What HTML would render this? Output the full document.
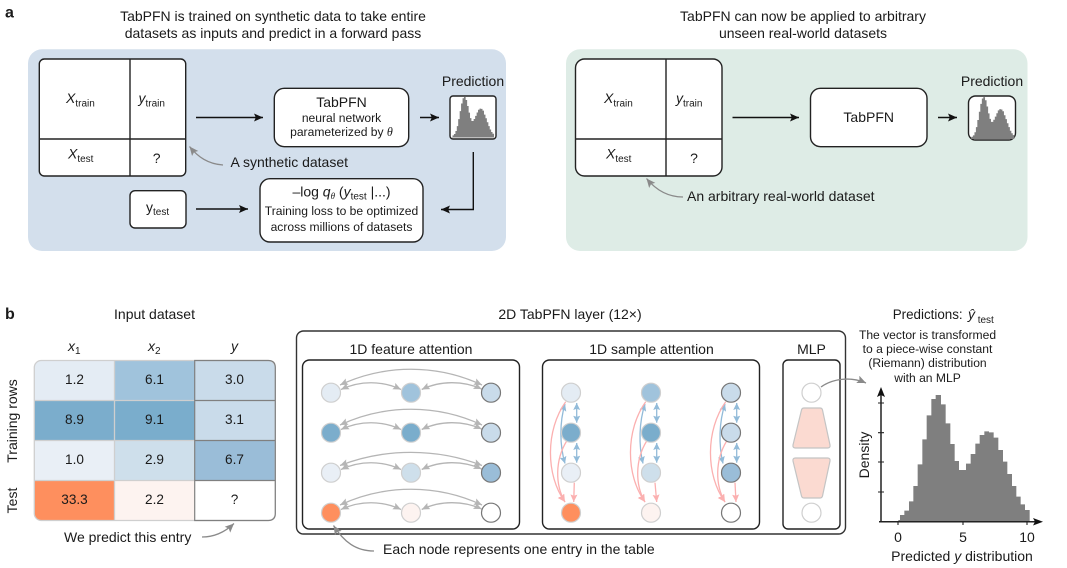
<!DOCTYPE html>
<html><head><meta charset="utf-8"><style>
html,body{margin:0;padding:0;background:#fff}
svg{display:block}
text{font-family:"Liberation Sans",sans-serif;fill:#1a1a1a;font-size:14px}
.m{text-anchor:middle}
.i{font-style:italic}
.s{font-size:10px}
.sm{font-size:12.1px}
.th{font-family:"Liberation Serif",serif;font-style:italic}
.box{fill:#fff;stroke:#222;stroke-width:1.4}
.a{fill:none;stroke:#111;stroke-width:1.4;marker-end:url(#k)}
.g{fill:none;stroke:#8a8a8a;stroke-width:1.3;marker-end:url(#g)}
.f{fill:none;stroke:#b5b5b5;stroke-width:1.3;marker-end:url(#f);marker-start:url(#f)}
.b{fill:none;stroke:#92bbd9;stroke-width:1.3;marker-end:url(#b);marker-start:url(#b)}
.p{fill:none;stroke:#fbb0b0;stroke-width:1.3;marker-end:url(#p)}
.grid{stroke:#cfcfcf;stroke-width:1.3}
.gy{stroke:#808080;stroke-width:1.2}
.n{font-size:13.6px}
</style></head><body>
<svg width="1067" height="568" viewBox="0 0 1067 568" xmlns="http://www.w3.org/2000/svg">
<defs>
<marker id="k" markerWidth="10" markerHeight="9" refX="9" refY="4" orient="auto" markerUnits="userSpaceOnUse"><path d="M0,0 L9,4 L0,8 L1.8,4z" fill="#111"/></marker>
<marker id="g" markerWidth="10" markerHeight="9" refX="9" refY="4" orient="auto" markerUnits="userSpaceOnUse"><path d="M0,0 L9,4 L0,8 L1.8,4z" fill="#8a8a8a"/></marker>
<marker id="f" markerWidth="9" markerHeight="8" refX="8" refY="3.5" orient="auto-start-reverse" markerUnits="userSpaceOnUse"><path d="M0,0 L8,3.5 L0,7 L1.5,3.5z" fill="#b5b5b5"/></marker>
<marker id="b" markerWidth="9" markerHeight="8" refX="7" refY="3.5" orient="auto-start-reverse" markerUnits="userSpaceOnUse"><path d="M0,0 L7,3.5 L0,7 L1.2,3.5z" fill="#92bbd9"/></marker>
<marker id="p" markerWidth="9" markerHeight="8" refX="7.5" refY="3.5" orient="auto" markerUnits="userSpaceOnUse"><path d="M0,0 L7.5,3.5 L0,7 L1.3,3.5z" fill="#fbb0b0"/></marker>
<clipPath id="tc"><rect x="34.3" y="360.5" width="241" height="160" rx="7"/></clipPath>
</defs>

<text x="5" y="17.5" style="font-weight:bold;font-size:16px">a</text>
<text x="5" y="319" style="font-weight:bold;font-size:16px">b</text>

<!-- panel a left -->
<text class="m" x="273" y="21">TabPFN is trained on synthetic data to take entire</text>
<text class="m" x="273" y="38">datasets as inputs and predict in a forward pass</text>
<rect x="28" y="49.3" width="478" height="201.7" rx="14" fill="#d3dfec"/>
<rect class="box" x="39.3" y="59" width="146.4" height="117" rx="5"/>
<path d="M130,59V176M39.3,139H185.7" stroke="#222" stroke-width="1.4" fill="none"/>
<text x="66" y="103" class="i">X<tspan class="s" font-style="normal" dy="3.5">train</tspan></text>
<text x="138.5" y="103" class="i">y<tspan class="s" font-style="normal" dy="3.5">train</tspan></text>
<text x="68" y="158.5" class="i">X<tspan class="s" font-style="normal" dy="3.5">test</tspan></text>
<text class="m" x="156.7" y="163">?</text>
<rect class="box" x="130" y="190.7" width="56" height="37.3" rx="5"/>
<text x="146" y="212">y<tspan class="s" dy="3">test</tspan></text>
<path class="a" d="M196,117.5H263"/>
<path class="a" d="M420,117.5H439"/>
<path class="a" d="M196,209H248"/>
<path class="a" d="M473.3,152V209.5H441"/>
<path class="g" d="M223,165 C208,164 198,157 189.5,146.5"/>
<text x="230.5" y="167">A synthetic dataset</text>
<rect class="box" x="274.3" y="88.3" width="134.4" height="58.4" rx="10"/>
<text class="m" x="341.5" y="107">TabPFN</text>
<text class="m sm" x="341.5" y="122">neural network</text>
<text class="m sm" x="341.5" y="136">parameterized by <tspan class="th">θ</tspan></text>
<rect class="box" x="260" y="178.7" width="163" height="63.3" rx="10"/>
<text class="m" x="341.5" y="196.5">–log <tspan class="i">q</tspan><tspan class="th" font-size="9" dy="2.5">θ</tspan><tspan dy="-2.5"> (</tspan><tspan class="i">y</tspan><tspan class="s" dy="3">test</tspan><tspan dy="-3"> |...)</tspan></text>
<text class="m sm" x="341.5" y="215">Training loss to be optimized</text>
<text class="m sm" x="341.5" y="231">across millions of datasets</text>
<text class="m" x="473" y="86">Prediction</text>
<rect x="450" y="96" width="46" height="43" rx="3" fill="#fff" stroke="#222" stroke-width="1.4"/>
<path transform="translate(433.35,66.6) scale(0.1066)" fill="#7f7f7f" d="M175,665V660H180V645H193V632H207V604H220V558H233V493H247V418H260V346H274V297H287V285H303V313H317V370H331V432H344V483H357V510H378V491H392V462H406V431H419V405H433V394H447V397H461V413H475V450H489V485H502V522H516V558H529V590H542V613H555V630H569V665Z"/>

<!-- panel a right -->
<text class="m" x="803" y="21">TabPFN can now be applied to arbitrary</text>
<text class="m" x="803" y="38">unseen real-world datasets</text>
<rect x="566" y="49.3" width="461.5" height="201.7" rx="14" fill="#deece6"/>
<rect class="box" x="575.5" y="59" width="146.5" height="117" rx="9"/>
<path d="M666,59V176M575.5,139H722" stroke="#222" stroke-width="1.4" fill="none"/>
<text x="604" y="103" class="i">X<tspan class="s" font-style="normal" dy="3.5">train</tspan></text>
<text x="676" y="103" class="i">y<tspan class="s" font-style="normal" dy="3.5">train</tspan></text>
<text x="606" y="158.5" class="i">X<tspan class="s" font-style="normal" dy="3.5">test</tspan></text>
<text class="m" x="694" y="163">?</text>
<path class="a" d="M732.5,117.5H799"/>
<path class="a" d="M938,117.5H957"/>
<rect class="box" x="810.5" y="88.3" width="116.5" height="58.4" rx="10"/>
<text class="m" x="868.7" y="122">TabPFN</text>
<text class="m" x="992" y="86">Prediction</text>
<rect x="968.5" y="96" width="47" height="44" rx="7" fill="#fff" stroke="#222" stroke-width="1.4"/>
<path transform="translate(951.7,65.8) scale(0.11)" fill="#7f7f7f" d="M175,665V660H180V645H193V632H207V604H220V558H233V493H247V418H260V346H274V297H287V285H303V313H317V370H331V432H344V483H357V510H378V491H392V462H406V431H419V405H433V394H447V397H461V413H475V450H489V485H502V522H516V558H529V590H542V613H555V630H569V665Z"/>
<path class="g" d="M683,197 C668,197 656,190 646.5,178.5"/>
<text x="687" y="201">An arbitrary real-world dataset</text>

<!-- panel b table -->
<text class="m" x="154.5" y="319">Input dataset</text>
<text class="i" x="68" y="351">x<tspan class="s" font-style="normal" dy="3">1</tspan></text>
<text class="i" x="148" y="351">x<tspan class="s" font-style="normal" dy="3">2</tspan></text>
<text class="i m" x="234.5" y="351">y</text>
<g clip-path="url(#tc)">
<rect x="34" y="360" width="81" height="41" fill="#e4ecf4"/><rect x="114.5" y="360" width="81" height="41" fill="#a0c3dc"/><rect x="194.7" y="360" width="81" height="41" fill="#c9dbea"/>
<rect x="34" y="400.5" width="81" height="40" fill="#7badcc"/><rect x="114.5" y="400.5" width="81" height="40" fill="#7aadcc"/><rect x="194.7" y="400.5" width="81" height="40" fill="#c9dbea"/>
<rect x="34" y="440.5" width="81" height="40" fill="#e9eff6"/><rect x="114.5" y="440.5" width="81" height="40" fill="#cedfeb"/><rect x="194.7" y="440.5" width="81" height="40" fill="#9abdd8"/>
<rect x="34" y="480.5" width="81" height="41" fill="#fe8f5e"/><rect x="114.5" y="480.5" width="81" height="41" fill="#fdf3f0"/><rect x="194.7" y="480.5" width="81" height="41" fill="#fff"/>
</g>
<path class="grid" d="M114.5,360.5V520.5M34.3,400.5H194.7M34.3,440.5H194.7M34.3,480.5H194.7"/>
<rect x="34.3" y="360.5" width="241" height="160" rx="7" fill="none" stroke="#cfcfcf" stroke-width="1.3"/>
<path class="gy" fill="none" d="M194.7,360.5H268.3Q275.3,360.5 275.3,367.5V513.5Q275.3,520.5 268.3,520.5H194.7ZM194.7,400.5H275.3M194.7,440.5H275.3M194.7,480.5H275.3"/>
<text class="m n" x="74.5" y="384">1.2</text><text class="m n" x="154.5" y="384">6.1</text><text class="m n" x="234.5" y="384">3.0</text>
<text class="m n" x="74.5" y="424">8.9</text><text class="m n" x="154.5" y="424">9.1</text><text class="m n" x="234.5" y="424">3.1</text>
<text class="m n" x="74.5" y="464">1.0</text><text class="m n" x="154.5" y="464">2.9</text><text class="m n" x="234.5" y="464">6.7</text>
<text class="m n" x="74.5" y="504">33.3</text><text class="m n" x="154.5" y="504">2.2</text><text class="m n" x="234.5" y="504">?</text>
<text class="m" transform="translate(17,421) rotate(-90)">Training rows</text>
<text class="m" transform="translate(17,500.5) rotate(-90)">Test</text>
<text x="64" y="542">We predict this entry</text>
<path class="g" d="M202,537 C214,537 225,532 234,523.5"/>

<!-- 2D layer -->
<text class="m" x="570" y="319">2D TabPFN layer (12×)</text>
<rect x="296.5" y="331" width="549" height="203" rx="7" fill="none" stroke="#333" stroke-width="1.4"/>
<text class="m" x="411" y="354">1D feature attention</text>
<text class="m" x="651.5" y="354">1D sample attention</text>
<text class="m" x="811.5" y="354">MLP</text>
<rect class="box" x="302.5" y="360" width="217" height="169" rx="7"/>
<rect class="box" x="542.5" y="360" width="217" height="169" rx="7"/>
<rect class="box" x="783" y="360" width="57" height="169" rx="5"/>

<!-- feature arcs -->
<g>
<path class="f" d="M340,385 C385,364 437,364 482,385"/><path class="f" d="M341,389.5 C360,380.5 382,380.5 401,389.5"/><path class="f" d="M421.7,389.5 C440,380.5 463,380.5 481.7,389"/>
<path class="f" d="M340,425 C385,404 437,404 482,425"/><path class="f" d="M341,429.5 C360,420.5 382,420.5 401,429.5"/><path class="f" d="M421.7,429.5 C440,420.5 463,420.5 481.7,429"/>
<path class="f" d="M340,465.5 C385,448 437,448 482,465.5"/><path class="f" d="M341,469.5 C360,460.5 382,460.5 401,469.5"/><path class="f" d="M421.7,469.5 C440,460.5 463,460.5 481.7,469"/>
<path class="f" d="M340,505 C385,484 437,484 482,505"/><path class="f" d="M341,509.5 C360,500.5 382,500.5 401,509.5"/><path class="f" d="M421.7,509.5 C440,500.5 463,500.5 481.7,509"/>
</g>
<!-- sample arrows -->
<g>
<path class="b" d="M576.7,403V422.7"/><path class="b" d="M576.7,443V462.7"/><path class="b" d="M565,404 C559.5,422 559.5,445 565,463.5"/>
<path class="p" d="M565.7,401.7 C545.5,430 545.5,475 565,502"/><path class="p" d="M566.7,441 C555,460 555,485 565,502"/><path class="p" d="M574.3,482.7L573.7,502"/>
<path class="b" d="M656.7,403V422.7"/><path class="b" d="M656.7,443V462.7"/><path class="b" d="M645,404 C639,422 638.5,445 643,463.5"/>
<path class="p" d="M645.7,401.7 C625.5,430 625.5,475 645,502"/><path class="p" d="M646.7,441 C635,460 635,485 645,502"/><path class="p" d="M655,482.7L656.7,502"/>
<path class="b" d="M736.7,403V422.7"/><path class="b" d="M736.7,443V462.7"/><path class="b" d="M725,404 C719,422 718.5,445 723,463.5"/>
<path class="p" d="M725.7,401.7 C705.5,430 705.5,475 725,502"/><path class="p" d="M726.7,441 C715,460 715,485 725,502"/><path class="p" d="M735,482.7L736,502"/>
</g>
<!-- nodes -->
<g stroke-width="1.2">
<g stroke="#cfcfcf">
<circle cx="331" cy="392.7" r="9.5" fill="#e4ecf4"/><circle cx="411" cy="392.7" r="9.5" fill="#a0c3dc"/>
<circle cx="331" cy="432.7" r="9.5" fill="#7badcc"/><circle cx="411" cy="432.7" r="9.5" fill="#7aadcc"/>
<circle cx="331" cy="472.7" r="9.5" fill="#e9eff6"/><circle cx="411" cy="472.7" r="9.5" fill="#cedfeb"/>
<circle cx="331" cy="512.7" r="9.5" fill="#fe8f5e"/><circle cx="411" cy="512.7" r="9.5" fill="#fdf3f0"/>
<circle cx="571" cy="392.7" r="9.5" fill="#e4ecf4"/><circle cx="651" cy="392.7" r="9.5" fill="#a0c3dc"/>
<circle cx="571" cy="432.7" r="9.5" fill="#7badcc"/><circle cx="651" cy="432.7" r="9.5" fill="#7aadcc"/>
<circle cx="571" cy="472.7" r="9.5" fill="#e9eff6"/><circle cx="651" cy="472.7" r="9.5" fill="#cedfeb"/>
<circle cx="571" cy="512.7" r="9.5" fill="#fe8f5e"/><circle cx="651" cy="512.7" r="9.5" fill="#fdf3f0"/>
<circle cx="811.5" cy="392.7" r="9.5" fill="#fff"/><circle cx="811.5" cy="512.7" r="9.5" fill="#fff"/>
</g>
<g stroke="#777">
<circle cx="491" cy="392.7" r="9.5" fill="#c9dbea"/><circle cx="491" cy="432.7" r="9.5" fill="#c9dbea"/><circle cx="491" cy="472.7" r="9.5" fill="#9abdd8"/><circle cx="491" cy="512.7" r="9.5" fill="#fff"/>
<circle cx="731" cy="392.7" r="9.5" fill="#c9dbea"/><circle cx="731" cy="432.7" r="9.5" fill="#c9dbea"/><circle cx="731" cy="472.7" r="9.5" fill="#9abdd8"/><circle cx="731" cy="512.7" r="9.5" fill="#fff"/>
</g>
</g>
<path d="M804,408 H820 Q822,408 822.5,410 L830,445 Q830.5,448 827.5,448 H795.5 Q792.5,448 793,445 L801.5,410 Q802,408 804,408Z" fill="#fbdad1" stroke="#c4c4c4" stroke-width="1.2"/>
<path d="M795.5,458 H827.5 Q830.5,458 830,461 L822.5,496 Q822,498 820,498 H804 Q802,498 801.5,496 L793,461 Q792.5,458 795.5,458Z" fill="#fbdad1" stroke="#c4c4c4" stroke-width="1.2"/>
<path class="g" d="M821,387 C832,379 850,376 866,383"/>
<path class="g" d="M374,551 C356,551 344,542 333.5,525.5"/>
<text x="383" y="554">Each node represents one entry in the table</text>

<!-- histogram -->
<text x="892.7" y="319" style="font-size:13.4px">Predictions:</text>
<text class="i" x="968" y="319">ŷ</text>
<text class="s" x="977.7" y="323">test</text>
<text class="m sm" x="927.5" y="339">The vector is transformed</text>
<text class="m sm" x="927.5" y="353">to a piece-wise constant</text>
<text class="m sm" x="927.5" y="367">(Riemann) distribution</text>
<text class="m sm" x="927.5" y="382">with an MLP</text>
<g transform="translate(840,300) scale(0.33333)">
<path fill="#7f7f7f" d="M175,665V660H180V645H193V632H207V604H220V558H233V493H247V418H260V346H274V297H287V285H303V313H317V370H331V432H344V483H357V510H378V491H392V462H406V431H419V405H433V394H447V397H461V413H475V450H489V485H502V522H516V558H529V590H542V613H555V630H569V665Z"/>
</g>
<path d="M881,521.7V394M879,521.7H1036" stroke="#222" stroke-width="1.5" fill="none"/>
<path d="M881,387 L885,397 L881,395 L877,397Z" fill="#111"/>
<path d="M1043,521.7 L1033,518 L1035,521.7 L1033,525.5Z" fill="#111"/>
<path d="M878,403H884M878,432.7H884M878,462H884M878,492H884M898,521.7V525M963,521.7V525M1027,521.7V525" stroke="#222" stroke-width="1.1"/>
<text class="m" x="898" y="542">0</text>
<text class="m" x="963" y="542">5</text>
<text class="m" x="1027" y="542">10</text>
<text class="m" x="962" y="561">Predicted <tspan class="i">y</tspan> distribution</text>
<text class="m" transform="translate(869,455) rotate(-90)">Density</text>
</svg>
</body></html>
